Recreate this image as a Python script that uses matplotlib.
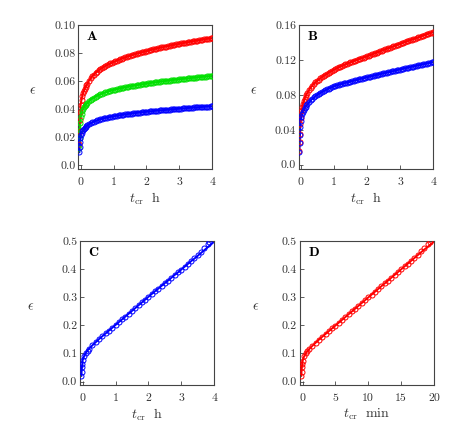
import matplotlib
matplotlib.use('Agg')
import matplotlib.pyplot as plt

plt.rcParams['font.family'] = 'serif'
plt.rcParams['font.serif'] = ['cmr10']
plt.rcParams['mathtext.fontset'] = 'cm'
plt.rcParams['axes.unicode_minus'] = False

# Time grid for panels A and B (hours)
t_h = [-0.04, -0.03, -0.02, -0.01, 0.0, 0.025, 0.05, 0.075, 0.1, 0.125, 0.15, 0.175,
       0.2, 0.25, 0.3, 0.35, 0.4, 0.45, 0.5, 0.55, 0.6, 0.65, 0.7, 0.75, 0.8, 0.85, 0.9, 0.95, 1.0,
       1.05, 1.1, 1.15, 1.2, 1.25, 1.3, 1.35, 1.4, 1.45, 1.5,
       1.55, 1.6, 1.65, 1.7, 1.75, 1.8, 1.85, 1.9, 1.95, 2.0,
       2.05, 2.1, 2.15, 2.2, 2.25, 2.3, 2.35, 2.4, 2.45, 2.5,
       2.55, 2.6, 2.65, 2.7, 2.75, 2.8, 2.85, 2.9, 2.95, 3.0,
       3.05, 3.1, 3.15, 3.2, 3.25, 3.3, 3.35, 3.4, 3.45, 3.5,
       3.55, 3.6, 3.65, 3.7, 3.75, 3.8, 3.85, 3.9, 3.95, 4.0]

# Panel A
a_red = [0.015, 0.024, 0.032, 0.038, 0.043, 0.0465, 0.0495, 0.0515, 0.0530, 0.0545, 0.0557, 0.0569,
         0.0580, 0.0601, 0.0618, 0.0633, 0.0645, 0.0657, 0.0667, 0.0677, 0.0685, 0.0693, 0.0700,
         0.0707, 0.0713, 0.0719, 0.0725, 0.0731, 0.0736,
         0.0741, 0.0746, 0.0751, 0.0755, 0.0760, 0.0764, 0.0768, 0.0772, 0.0776, 0.0780,
         0.0784, 0.0787, 0.0791, 0.0794, 0.0798, 0.0801, 0.0804, 0.0807, 0.0810, 0.0813,
         0.0816, 0.0819, 0.0822, 0.0825, 0.0828, 0.0830, 0.0833, 0.0836, 0.0839, 0.0841,
         0.0844, 0.0846, 0.0849, 0.0851, 0.0854, 0.0856, 0.0859, 0.0861, 0.0863, 0.0865,
         0.0868, 0.0870, 0.0872, 0.0874, 0.0876, 0.0878, 0.0881, 0.0883, 0.0885, 0.0887,
         0.0889, 0.0891, 0.0893, 0.0895, 0.0897, 0.0899, 0.0901, 0.0902, 0.0904, 0.0906]
a_green = [0.012, 0.019, 0.025, 0.030, 0.034, 0.0365, 0.0385, 0.0399, 0.0410, 0.0420, 0.0428, 0.0436,
           0.0443, 0.0455, 0.0465, 0.0474, 0.0481, 0.0488, 0.0494, 0.0500, 0.0505, 0.0510, 0.0514,
           0.0518, 0.0521, 0.0525, 0.0529, 0.0532, 0.0535,
           0.0538, 0.0541, 0.0544, 0.0546, 0.0549, 0.0552, 0.0554, 0.0556, 0.0559, 0.0561,
           0.0563, 0.0565, 0.0567, 0.0569, 0.0571, 0.0573, 0.0575, 0.0577, 0.0579, 0.0580,
           0.0582, 0.0584, 0.0586, 0.0588, 0.0590, 0.0591, 0.0593, 0.0594, 0.0596, 0.0597,
           0.0599, 0.0600, 0.0602, 0.0603, 0.0605, 0.0606, 0.0608, 0.0609, 0.0610, 0.0611,
           0.0613, 0.0614, 0.0615, 0.0616, 0.0618, 0.0619, 0.0621, 0.0622, 0.0623, 0.0624,
           0.0626, 0.0627, 0.0628, 0.0629, 0.0630, 0.0631, 0.0632, 0.0633, 0.0634, 0.0635]
a_blue = [0.009, 0.013, 0.016, 0.019, 0.0215, 0.0228, 0.0240, 0.0248, 0.0255, 0.0263, 0.0270, 0.0276,
          0.0282, 0.0290, 0.0297, 0.0303, 0.0309, 0.0314, 0.0318, 0.0322, 0.0326, 0.0329, 0.0332,
          0.0335, 0.0337, 0.0340, 0.0342, 0.0345, 0.0347,
          0.0349, 0.0351, 0.0353, 0.0355, 0.0357, 0.0359, 0.0361, 0.0362, 0.0364, 0.0365,
          0.0367, 0.0368, 0.0370, 0.0371, 0.0373, 0.0374, 0.0376, 0.0377, 0.0378, 0.0379,
          0.0381, 0.0382, 0.0383, 0.0384, 0.0386, 0.0387, 0.0388, 0.0389, 0.0390, 0.0391,
          0.0392, 0.0393, 0.0394, 0.0395, 0.0396, 0.0397, 0.0398, 0.0399, 0.0400, 0.0401,
          0.0402, 0.0403, 0.0404, 0.0405, 0.0406, 0.0407, 0.0408, 0.0409, 0.0410, 0.0410,
          0.0411, 0.0412, 0.0413, 0.0414, 0.0415, 0.0416, 0.0416, 0.0417, 0.0418, 0.0418]

# Panel B
b_red = [0.016, 0.026, 0.035, 0.047, 0.054, 0.061, 0.066, 0.070, 0.073, 0.0757, 0.0780, 0.0800,
         0.0820, 0.0852, 0.0880, 0.0903, 0.0925, 0.0943, 0.0960, 0.0975, 0.0990, 0.1004, 0.1017,
         0.1030, 0.1042, 0.1054, 0.1065, 0.1076, 0.1086,
         0.1096, 0.1105, 0.1114, 0.1123, 0.1132, 0.1140, 0.1148, 0.1156, 0.1164, 0.1171,
         0.1179, 0.1186, 0.1193, 0.1200, 0.1207, 0.1214, 0.1221, 0.1227, 0.1234, 0.1240,
         0.1247, 0.1255, 0.1262, 0.1270, 0.1277, 0.1284, 0.1291, 0.1298, 0.1306, 0.1313,
         0.1320, 0.1327, 0.1334, 0.1341, 0.1348, 0.1355, 0.1362, 0.1369, 0.1376, 0.1383,
         0.1390, 0.1397, 0.1404, 0.1411, 0.1417, 0.1424, 0.1431, 0.1438, 0.1445, 0.1452,
         0.1458, 0.1465, 0.1472, 0.1479, 0.1485, 0.1492, 0.1499, 0.1506, 0.1512, 0.1519]
b_blue = [0.015, 0.025, 0.034, 0.043, 0.050, 0.055, 0.058, 0.0607, 0.0630, 0.0648, 0.0665, 0.0678,
          0.0690, 0.0714, 0.0735, 0.0753, 0.0770, 0.0785, 0.0798, 0.0810, 0.0822, 0.0833, 0.0843,
          0.0853, 0.0862, 0.0871, 0.0880, 0.0888, 0.0896,
          0.0902, 0.0908, 0.0914, 0.0919, 0.0925, 0.0930, 0.0936, 0.0941, 0.0946, 0.0951,
          0.0956, 0.0961, 0.0966, 0.0971, 0.0976, 0.0981, 0.0986, 0.0990, 0.0995, 0.1000,
          0.1005, 0.1009, 0.1014, 0.1018, 0.1023, 0.1027, 0.1032, 0.1036, 0.1041, 0.1045,
          0.1050, 0.1054, 0.1059, 0.1063, 0.1068, 0.1072, 0.1077, 0.1081, 0.1086, 0.1090,
          0.1095, 0.1099, 0.1103, 0.1107, 0.1112, 0.1116, 0.1120, 0.1124, 0.1129, 0.1133,
          0.1137, 0.1141, 0.1146, 0.1150, 0.1154, 0.1158, 0.1163, 0.1167, 0.1171, 0.1175]

# Panel C (hours): measured points and fitted curve
c_t = [-0.04, -0.03, -0.02, -0.01, 0.0, 0.05, 0.1, 0.15,
       0.2, 0.3, 0.4, 0.5, 0.6, 0.7, 0.8, 0.9, 1.0,
       1.1, 1.2, 1.3, 1.4, 1.5, 1.6, 1.7, 1.8, 1.9, 2.0,
       2.1, 2.2, 2.3, 2.4, 2.5, 2.6, 2.7, 2.8, 2.9, 3.0,
       3.1, 3.2, 3.3, 3.4, 3.5, 3.6, 3.7, 3.8, 3.85]
c_eps = [0.020, 0.035, 0.050, 0.062, 0.075, 0.092, 0.102, 0.110,
         0.117, 0.129, 0.140, 0.151, 0.161, 0.171, 0.181, 0.191, 0.201,
         0.211, 0.221, 0.231, 0.241, 0.251, 0.261, 0.271, 0.281, 0.291, 0.301,
         0.311, 0.321, 0.330, 0.340, 0.350, 0.359, 0.369, 0.379, 0.388, 0.398,
         0.408, 0.418, 0.428, 0.439, 0.450, 0.462, 0.475, 0.489, 0.497]
c_fit_t = [-0.04, -0.03, -0.02, -0.01, 0.0, 0.05, 0.1, 0.15,
           0.2, 0.3, 0.4, 0.5, 0.6, 0.7, 0.8, 0.9, 1.0,
           1.1, 1.2, 1.3, 1.4, 1.5, 1.6, 1.7, 1.8, 1.9, 2.0,
           2.1, 2.2, 2.3, 2.4, 2.5, 2.6, 2.7, 2.8, 2.9, 3.0,
           3.1, 3.2, 3.3, 3.4, 3.5, 3.6, 3.7, 3.8, 3.9, 4.0]
c_fit = [0.020, 0.035, 0.050, 0.062, 0.075, 0.092, 0.102, 0.110,
         0.117, 0.129, 0.140, 0.151, 0.161, 0.171, 0.181, 0.191, 0.201,
         0.211, 0.221, 0.231, 0.241, 0.251, 0.261, 0.271, 0.281, 0.291, 0.301,
         0.311, 0.321, 0.330, 0.340, 0.350, 0.359, 0.369, 0.379, 0.388, 0.398,
         0.408, 0.418, 0.428, 0.437, 0.447, 0.457, 0.467, 0.477, 0.487, 0.497]

# Panel D (minutes): measured points and fitted curve
d_t = [-0.2, -0.15, -0.1, -0.05, 0.0, 0.25, 0.5, 0.75,
       1.0, 1.5, 2.0, 2.5, 3.0, 3.5, 4.0, 4.5, 5.0,
       5.5, 6.0, 6.5, 7.0, 7.5, 8.0, 8.5, 9.0, 9.5, 10.0,
       10.5, 11.0, 11.5, 12.0, 12.5, 13.0, 13.5, 14.0, 14.5, 15.0,
       15.5, 16.0, 16.5, 17.0, 17.5, 18.0, 18.5, 19.0, 19.3]
d_eps = [0.020, 0.035, 0.050, 0.062, 0.072, 0.090, 0.100, 0.108,
         0.115, 0.127, 0.138, 0.149, 0.159, 0.169, 0.179, 0.189, 0.199,
         0.209, 0.219, 0.229, 0.239, 0.249, 0.259, 0.269, 0.279, 0.289, 0.299,
         0.309, 0.319, 0.329, 0.339, 0.349, 0.359, 0.369, 0.379, 0.389, 0.399,
         0.409, 0.419, 0.429, 0.440, 0.451, 0.463, 0.476, 0.489, 0.497]
d_fit_t = [-0.2, -0.15, -0.1, -0.05, 0.0, 0.25, 0.5, 0.75,
           1.0, 1.5, 2.0, 2.5, 3.0, 3.5, 4.0, 4.5, 5.0,
           5.5, 6.0, 6.5, 7.0, 7.5, 8.0, 8.5, 9.0, 9.5, 10.0,
           10.5, 11.0, 11.5, 12.0, 12.5, 13.0, 13.5, 14.0, 14.5, 15.0,
           15.5, 16.0, 16.5, 17.0, 17.5, 18.0, 18.5, 19.0, 19.5, 20.0]
d_fit = [0.020, 0.035, 0.050, 0.062, 0.072, 0.090, 0.100, 0.108,
         0.115, 0.127, 0.138, 0.149, 0.159, 0.169, 0.179, 0.189, 0.199,
         0.209, 0.219, 0.229, 0.239, 0.249, 0.259, 0.269, 0.279, 0.289, 0.299,
         0.309, 0.319, 0.329, 0.339, 0.349, 0.359, 0.369, 0.379, 0.389, 0.399,
         0.409, 0.419, 0.429, 0.439, 0.449, 0.459, 0.469, 0.478, 0.488, 0.498]

# Tick labels
a_yticks = [0.0, 0.02, 0.04, 0.06, 0.08, 0.10]
a_ylabels = ['0.0', '0.02', '0.04', '0.06', '0.08', '0.10']
b_yticks = [0.0, 0.04, 0.08, 0.12, 0.16]
b_ylabels = ['0.0', '0.04', '0.08', '0.12', '0.16']
cd_yticks = [0.0, 0.1, 0.2, 0.3, 0.4, 0.5]
cd_ylabels = ['0.0', '0.1', '0.2', '0.3', '0.4', '0.5']
h_xticks = [0, 1, 2, 3, 4]
min_xticks = [0, 5, 10, 15, 20]

RED = '#ff0000'
GREEN = '#00e000'
BLUE = '#0000ff'
SPINE = '#444444'


def draw_series(ax, x, y, color, fit_x=None, fit_y=None):
    if fit_x is None:
        fit_x, fit_y = x, y
    ax.plot(fit_x, fit_y, '-', color=color, linewidth=1.4, zorder=2)
    ax.plot(x, y, 'o', mfc='none', mec=color, markersize=3.6,
            markeredgewidth=0.7, zorder=3)


def style_axes(ax, letter, xlim, ylim, xticks, yticks, ylabels, xlabel, ylab_x):
    ax.set_xlim(*xlim)
    ax.set_ylim(*ylim)
    ax.set_xticks(xticks)
    ax.set_xticklabels([str(v) for v in xticks])
    ax.set_yticks(yticks)
    ax.set_yticklabels(ylabels)
    for s in ax.spines.values():
        s.set_color(SPINE)
        s.set_linewidth(0.8)
    ax.tick_params(direction='in', length=3, width=0.6, color=SPINE,
                   labelsize=8.5, labelcolor='#333333', top=False, right=False)
    ax.tick_params(axis='x', pad=6)
    ax.tick_params(axis='y', pad=2)
    ax.set_xlabel(xlabel, fontsize=10, color='#333333', labelpad=3)
    ax.set_ylabel(r'$\epsilon$', fontsize=10, rotation=0, color='#333333')
    ax.yaxis.set_label_coords(ylab_x, 0.5)
    ax.text(0.06, 0.92, r'$\mathbf{%s}$' % letter, transform=ax.transAxes,
            fontsize=10, ha='left', va='center')


fig = plt.figure(figsize=(4.76, 4.46), dpi=100)
axA = fig.add_axes([0.164, 0.621, 0.282, 0.323])
axB = fig.add_axes([0.628, 0.621, 0.282, 0.323])
axC = fig.add_axes([0.168, 0.137, 0.282, 0.323])
axD = fig.add_axes([0.630, 0.137, 0.282, 0.323])

draw_series(axA, t_h, a_red, RED)
draw_series(axA, t_h, a_green, GREEN)
draw_series(axA, t_h, a_blue, BLUE)
style_axes(axA, 'A', (-0.08, 4.0), (-0.003, 0.1), h_xticks, a_yticks, a_ylabels,
           r'$t_{\rm cr}\ \ {\rm h}$', -0.34)

draw_series(axB, t_h, b_red, RED)
draw_series(axB, t_h, b_blue, BLUE)
style_axes(axB, 'B', (-0.05, 4.0), (-0.005, 0.16), h_xticks, b_yticks, b_ylabels,
           r'$t_{\rm cr}\ \ {\rm h}$', -0.34)

draw_series(axC, c_t, c_eps, BLUE, c_fit_t, c_fit)
style_axes(axC, 'C', (-0.08, 4.0), (-0.012, 0.5), h_xticks, cd_yticks, cd_ylabels,
           r'$t_{\rm cr}\ \ {\rm h}$', -0.37)

draw_series(axD, d_t, d_eps, RED, d_fit_t, d_fit)
style_axes(axD, 'D', (-0.4, 20.0), (-0.012, 0.5), min_xticks, cd_yticks, cd_ylabels,
           r'$t_{\rm cr}\ \ {\rm min}$', -0.33)

fig.savefig('out.png', dpi=100)
